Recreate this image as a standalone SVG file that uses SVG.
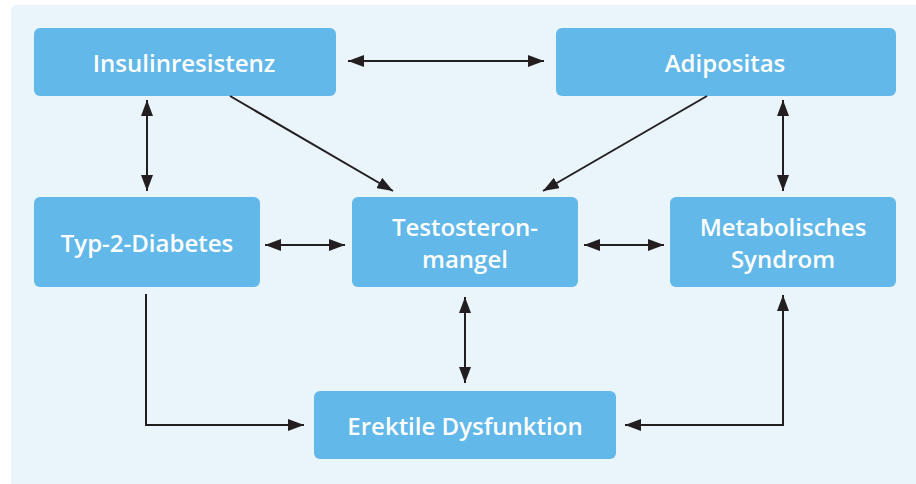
<svg xmlns="http://www.w3.org/2000/svg" width="916" height="484" viewBox="0 0 916 484">
<defs>
<style>
.box{fill:#62b8e8;}
.lbl{font-family:"Open Sans","Liberation Sans",sans-serif;font-weight:600;font-size:24px;fill:#ffffff;text-anchor:middle;}
.con{stroke:#231f20;stroke-width:2;fill:none;}
</style>
<marker id="ah" viewBox="0 0 16 12" refX="16" refY="6" markerWidth="16" markerHeight="12" markerUnits="userSpaceOnUse" orient="auto-start-reverse">
<path d="M0,0 L16,6 L0,12 z" fill="#231f20"/>
</marker>
</defs>
<rect x="0" y="0" width="916" height="484" fill="#ffffff"/>
<rect x="11" y="5" width="912" height="484" rx="6" fill="#e9f4fb"/>
<g id="insulinresistenz"><rect class="box" x="34" y="28" width="302" height="68" rx="6"/><text class="lbl" x="184" y="72">Insulinresistenz</text></g>
<g id="adipositas"><rect class="box" x="556" y="28" width="340" height="68" rx="6"/><text class="lbl" x="725" y="72">Adipositas</text></g>
<g id="typ2"><rect class="box" x="34" y="197" width="226" height="90" rx="6"/><text class="lbl" x="147" y="252">Typ-2-Diabetes</text></g>
<g id="testosteron"><rect class="box" x="352" y="197" width="226" height="90" rx="6"/><text class="lbl" x="465" y="236">Testosteron-</text><text class="lbl" x="465" y="268">mangel</text></g>
<g id="metabolisch"><rect class="box" x="670" y="197" width="226" height="90" rx="6"/><text class="lbl" x="783" y="236">Metabolisches</text><text class="lbl" x="783" y="268">Syndrom</text></g>
<g id="erektil"><rect class="box" x="314" y="391" width="302" height="68" rx="6"/><text class="lbl" x="465" y="435">Erektile Dysfunktion</text></g>
<g id="connectors">
<line class="con" x1="348" y1="61" x2="544" y2="61" marker-start="url(#ah)" marker-end="url(#ah)"/>
<line class="con" x1="147" y1="100" x2="147" y2="191" marker-start="url(#ah)" marker-end="url(#ah)"/>
<line class="con" x1="230" y1="96" x2="393" y2="191" marker-end="url(#ah)"/>
<line class="con" x1="707" y1="96" x2="543" y2="191" marker-end="url(#ah)"/>
<line class="con" x1="783" y1="100" x2="783" y2="191" marker-start="url(#ah)" marker-end="url(#ah)"/>
<line class="con" x1="265" y1="245" x2="345" y2="245" marker-start="url(#ah)" marker-end="url(#ah)"/>
<line class="con" x1="584" y1="245" x2="664" y2="245" marker-start="url(#ah)" marker-end="url(#ah)"/>
<line class="con" x1="465" y1="297" x2="465" y2="383" marker-start="url(#ah)" marker-end="url(#ah)"/>
<polyline class="con" points="146,294 146,425 304,425" marker-end="url(#ah)"/>
<polyline class="con" points="783,295 783,425 625,425" marker-start="url(#ah)" marker-end="url(#ah)"/>
</g>
</svg>
